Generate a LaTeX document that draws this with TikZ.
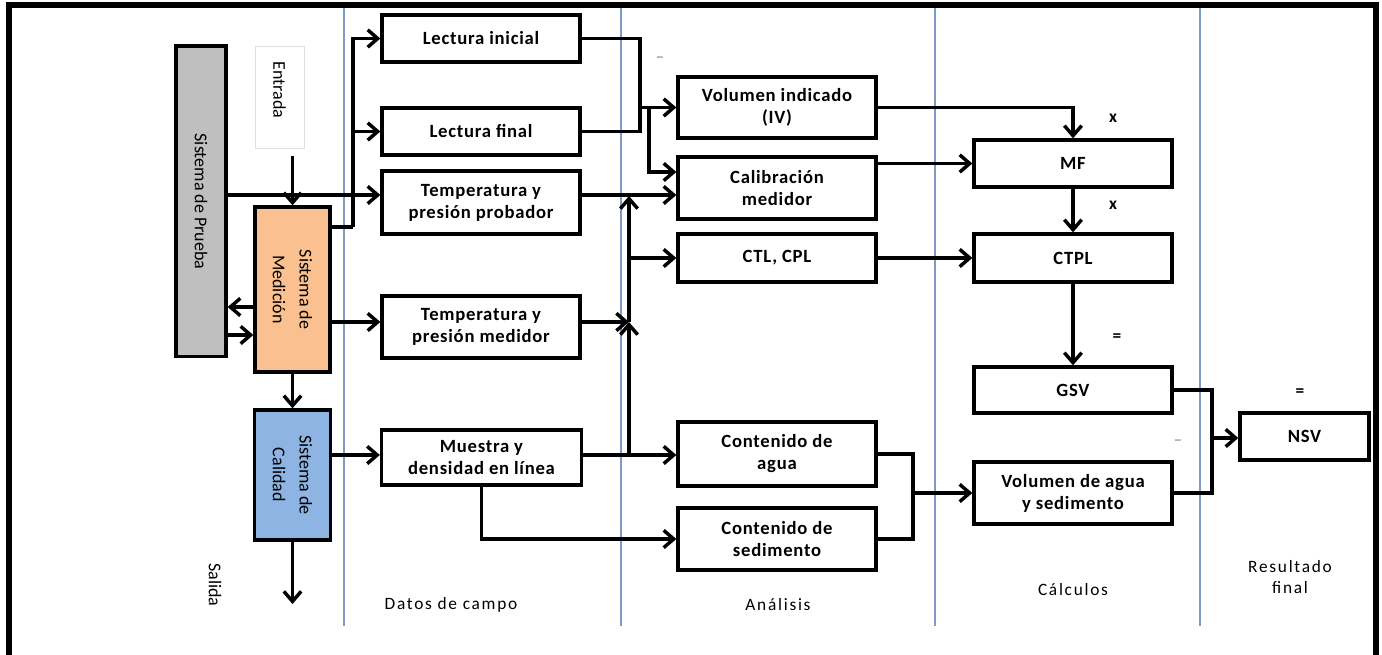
\documentclass[tikz,border=0pt]{standalone}
\usepackage{fontspec}
\setmainfont{Carlito}
\newfontfamily\boxfont[LetterSpace=4]{Carlito}
\newfontfamily\lanefont[LetterSpace=10]{Carlito}
\usetikzlibrary{arrows.meta}
\definecolor{pruebagray}{HTML}{BFBFBF}
\definecolor{medorange}{HTML}{FAC090}
\definecolor{calblue}{HTML}{8EB4E3}
\definecolor{lanecol}{HTML}{7F9BC8}
\begin{document}
\begin{tikzpicture}[x=0.75pt,y=-0.75pt,
  box/.style={draw, line width=2.5pt, fill=white, minimum width=148.5pt, inner sep=0pt, align=center,
     font=\boxfont\bfseries\fontsize{14}{16.5}\selectfont},
  sidebox/.style={draw, line width=2.5pt, inner sep=0pt},
  sidetext/.style={rotate=-90, align=center, font=\fontsize{13.5}{20}\selectfont},
  lanetext/.style={align=center, font=\lanefont\fontsize{13}{16}\selectfont},
  marktext/.style={font=\bfseries\fontsize{13}{14}\selectfont},
  conn/.style={line width=2.6pt},
  arr/.style={conn, -{Straight Barb[length=7.5pt,width=13pt]}},
  lane/.style={lanecol, line width=1.1pt}]
\useasboundingbox (0,0) rectangle (1382,655);
% frame
\draw[line width=4.5pt] (9,655) -- (9,5) -- (1376,5) -- (1376,655);
% lane separators
\foreach \xx in {344,621,935,1200} \draw[lane] (\xx,8) -- (\xx,626);

% left systems
\node[sidebox, fill=pruebagray, minimum width=37.5pt, minimum height=233pt] (prueba) at (201,201.5) {};
\node[sidetext] (pruebatxt) at (prueba) {Sistema de Prueba};
\node[draw=gray!25, line width=0.6pt, minimum width=36.8pt, minimum height=76.5pt, inner sep=0pt] (entrada) at (279.5,97) {};
\node[sidetext] (entradatxt) at (279.5,90) {Entrada};
\node[sidebox, fill=medorange, minimum width=56.3pt, minimum height=123.8pt] (medicion) at (292.5,289.5) {};
\node[sidetext] (mediciontxt) at (medicion) {Sistema de\\Medición};
\node[sidebox, fill=calblue, minimum width=57pt, minimum height=97.5pt] (calidad) at (292.5,475) {};
\node[sidetext] (calidadtxt) at (calidad) {Sistema de\\Calidad};
\node[sidetext] (salida) at (215,585) {Salida};
\coordinate (salidaend) at (292.5,604);

% field data
\node[box, minimum height=35.3pt] (lini) at (481,38.5) {Lectura inicial};
\node[box, minimum height=35.3pt] (lfin) at (481,131.5) {Lectura final};
\node[box, minimum height=47.3pt] (tprob) at (481,202.5) {Temperatura y\\presión probador};
\node[box, minimum height=46.5pt] (tmed) at (481,327) {Temperatura y\\presión medidor};
\node[box, minimum width=150pt, minimum height=41.3pt] (muestra) at (481.5,457.5) {Muestra y\\densidad en línea};

% analysis
\node[box, minimum height=45.8pt] (volind) at (777,107.5) {Volumen indicado\\(IV)};
\node[box, minimum height=46.5pt] (calib) at (777,188) {Calibración\\medidor};
\node[box, minimum height=36pt] (ctl) at (777,258) {CTL, CPL};
\node[box, minimum height=48pt] (agua) at (777,454) {Contenido de\\agua};
\node[box, minimum height=46.5pt] (sed) at (777,539) {Contenido de\\sedimento};

% calculations
\node[box, minimum height=35.3pt] (mf) at (1073,163.5) {MF};
\node[box, minimum height=36pt] (ctpl) at (1073,258) {CTPL};
\node[box, minimum height=34.5pt] (gsv) at (1073,390) {GSV};
\node[box, minimum height=46.5pt] (vas) at (1073,493) {Volumen de agua\\y sedimento};
\node[box, minimum width=96.8pt, minimum height=35.3pt] (nsv) at (1304.5,436.5) {NSV};

% lane labels
\node[lanetext] (l1) at (451,605) {Datos de campo};
\node[lanetext] (l2) at (778,605) {Análisis};
\node[lanetext] (l3) at (1073,590) {Cálculos};
\node[lanetext] (l4) at (1290,577) {Resultado\\final};

% operator marks
\node[marktext] (m1) at (1113,118) {x};
\node[marktext] (m2) at (1113,205) {x};
\node[marktext] (m3) at (1117,338) {=};
\node[marktext] (m4) at (1300,393) {=};
\node[marktext, text=gray!70] (m5) at (660,60) {–};
\node[marktext, text=gray!70] (m6) at (1178,443) {–};

% connectors: left systems
\draw[arr] (medicion.north |- 0,156) -- (medicion.north);
\coordinate (b1) at (353,227);
\draw[conn] (medicion.east |- b1) -- (b1);
\draw[arr] (b1) |- (lini.west);
\draw[arr] (b1 |- lfin.west) -- (lfin.west);
\draw[arr] (prueba.east |- 0,195) -- (tprob.west |- 0,195);
\draw[arr] (medicion.west |- 0,307) -- (prueba.east |- 0,307);
\draw[arr] (prueba.east |- 0,335) -- (medicion.west |- 0,335);
\draw[arr] (medicion.east |- 0,322) -- (tmed.west |- 0,322);
\draw[arr] (medicion.south) -- (calidad.north);
\draw[arr] (calidad.east |- 0,455) -- (muestra.west |- 0,455);
\draw[arr] (calidad.south) -- (salidaend);

% field data -> analysis
\coordinate (j1) at (640,107.5);
\draw[conn] (lini.east) -| (j1);
\draw[conn] (lfin.east) -| (j1);
\draw[arr] (j1) -- (volind.west);
\coordinate (j1b) at (649,107.5);
\draw[arr] (j1b) |- (calib.west |- 0,172);
\draw[arr] (tprob.east |- 0,195) -- (calib.west |- 0,195);
\coordinate (v1) at (629,455);
\coordinate (v2) at (629,322);
\coordinate (v3) at (629,196);
\draw[arr] (muestra.east |- v1) -- (agua.west |- v1);
\draw[arr] (v1) -- (v2);
\draw[arr] (v2) -- (v3);
\draw[arr] (tmed.east |- v2) -- (v2);
\draw[arr] (v1 |- ctl.west) -- (ctl.west);
\draw[arr] (muestra.south) |- (sed.west);

% analysis -> calculations
\draw[arr] (volind.east) -| (mf.north);
\draw[arr] (calib.east |- mf.west) -- (mf.west);
\draw[arr] (mf.south) -- (ctpl.north);
\draw[arr] (ctl.east) -- (ctpl.west);
\draw[arr] (ctpl.south) -- (gsv.north);
\coordinate (j2) at (913,493);
\draw[conn] (agua.east) -| (j2);
\draw[conn] (sed.east) -| (j2);
\draw[arr] (j2) -- (vas.west);
\coordinate (j3) at (1212,438);
\draw[conn] (gsv.east) -| (j3);
\draw[conn] (vas.east) -| (j3);
\draw[arr] (j3) -- (nsv.west |- j3);
\end{tikzpicture}
\end{document}
